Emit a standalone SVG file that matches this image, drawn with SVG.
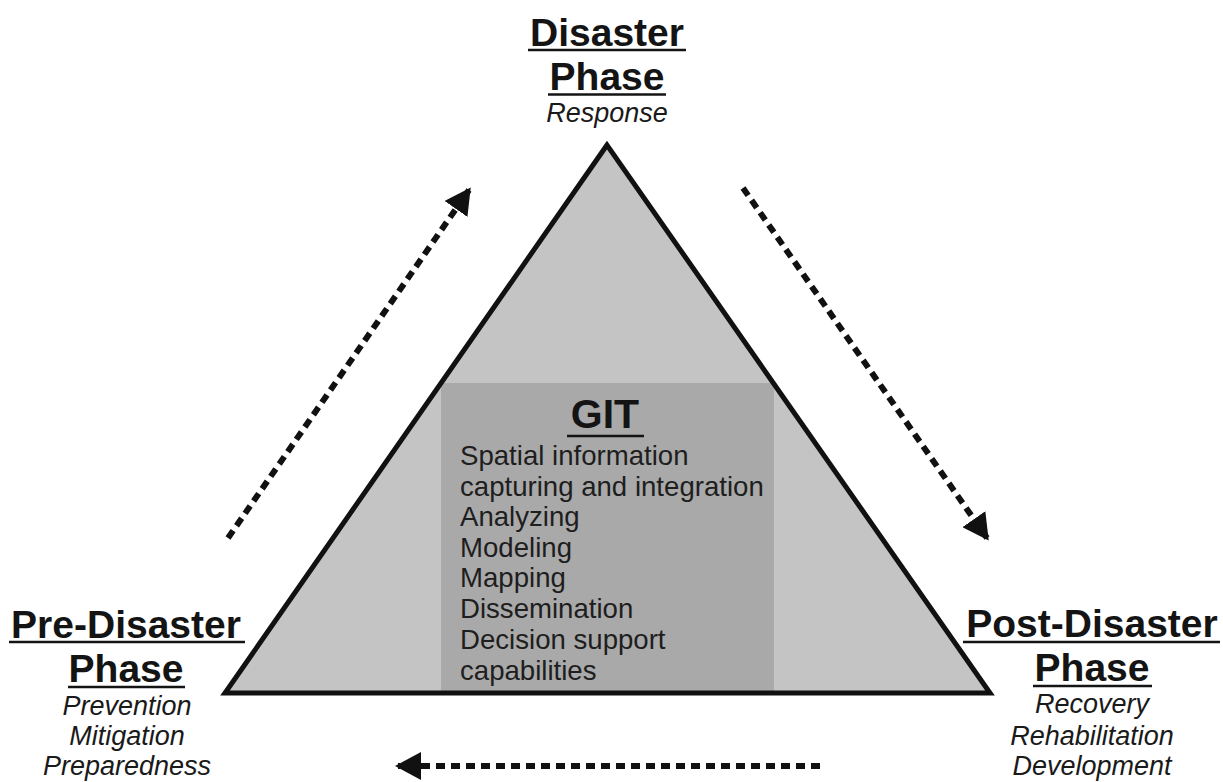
<svg xmlns="http://www.w3.org/2000/svg" width="1223" height="782" viewBox="0 0 1223 782">
<defs>
<style>
.title{font-family:"Liberation Sans",Arial,sans-serif;font-weight:bold;fill:#141414;text-anchor:middle}
.sub{font-family:"Liberation Sans",Arial,sans-serif;font-style:italic;font-size:27px;fill:#1a1a1a;text-anchor:middle}
.item{font-family:"Liberation Sans",Arial,sans-serif;font-size:27.6px;fill:#1e1e1e}
.ul{stroke:#141414;stroke-width:2.5}
.dash{fill:none;stroke:#111;stroke-width:6;stroke-dasharray:9 6}
</style>
<marker id="ah" viewBox="0 0 26 28" refX="23" refY="14" markerWidth="26" markerHeight="28" markerUnits="userSpaceOnUse" orient="auto">
<path d="M0,0 L26,14 L0,28 z" fill="#111"/>
</marker>
</defs>
<rect width="1223" height="782" fill="#fff"/>
<g id="triangle">
<polygon points="607,145 225,693 990,693" fill="#c4c4c4"/>
<rect x="441" y="383" width="333" height="310" fill="#a9a9a9"/>
<polygon points="607,145 225,693 990,693" fill="none" stroke="#111" stroke-width="5" stroke-linejoin="miter"/>
</g>
<g id="git">
<text class="title" x="605" y="428" font-size="41">GIT</text>
<line class="ul" x1="567" y1="436" x2="644" y2="436"/>
<text class="item" x="460" y="465">Spatial information</text>
<text class="item" x="460" y="496">capturing and integration</text>
<text class="item" x="460" y="526">Analyzing</text>
<text class="item" x="460" y="557">Modeling</text>
<text class="item" x="460" y="587">Mapping</text>
<text class="item" x="460" y="618">Dissemination</text>
<text class="item" x="460" y="649">Decision support</text>
<text class="item" x="460" y="680">capabilities</text>
</g>
<g id="disaster-phase">
<text class="title" x="607" y="46" font-size="39">Disaster</text>
<line class="ul" x1="528" y1="50" x2="686" y2="50"/>
<text class="title" x="607" y="90" font-size="39">Phase</text>
<line class="ul" x1="548" y1="94.5" x2="666" y2="94.5"/>
<text class="sub" x="607" y="122">Response</text>
</g>
<g id="pre-disaster-phase">
<text class="title" x="126" y="638" font-size="39">Pre-Disaster</text>
<line class="ul" x1="9" y1="642" x2="245" y2="642"/>
<text class="title" x="126" y="682" font-size="39">Phase</text>
<line class="ul" x1="68" y1="687" x2="185" y2="687"/>
<text class="sub" x="127" y="715">Prevention</text>
<text class="sub" x="127" y="745">Mitigation</text>
<text class="sub" x="127" y="775">Preparedness</text>
</g>
<g id="post-disaster-phase">
<text class="title" x="1092" y="637" font-size="39">Post-Disaster</text>
<line class="ul" x1="963" y1="642" x2="1220" y2="642"/>
<text class="title" x="1092" y="681" font-size="39">Phase</text>
<line class="ul" x1="1033" y1="686" x2="1152" y2="686"/>
<text class="sub" x="1092" y="713">Recovery</text>
<text class="sub" x="1092" y="745">Rehabilitation</text>
<text class="sub" x="1092" y="775">Development</text>
</g>
<g id="connectors">
<line class="dash" x1="228" y1="538" x2="469" y2="190" marker-end="url(#ah)"/>
<line class="dash" x1="743" y1="188" x2="987" y2="538" marker-end="url(#ah)"/>
<line class="dash" x1="820" y1="766" x2="398" y2="766" marker-end="url(#ah)"/>
</g>
</svg>
